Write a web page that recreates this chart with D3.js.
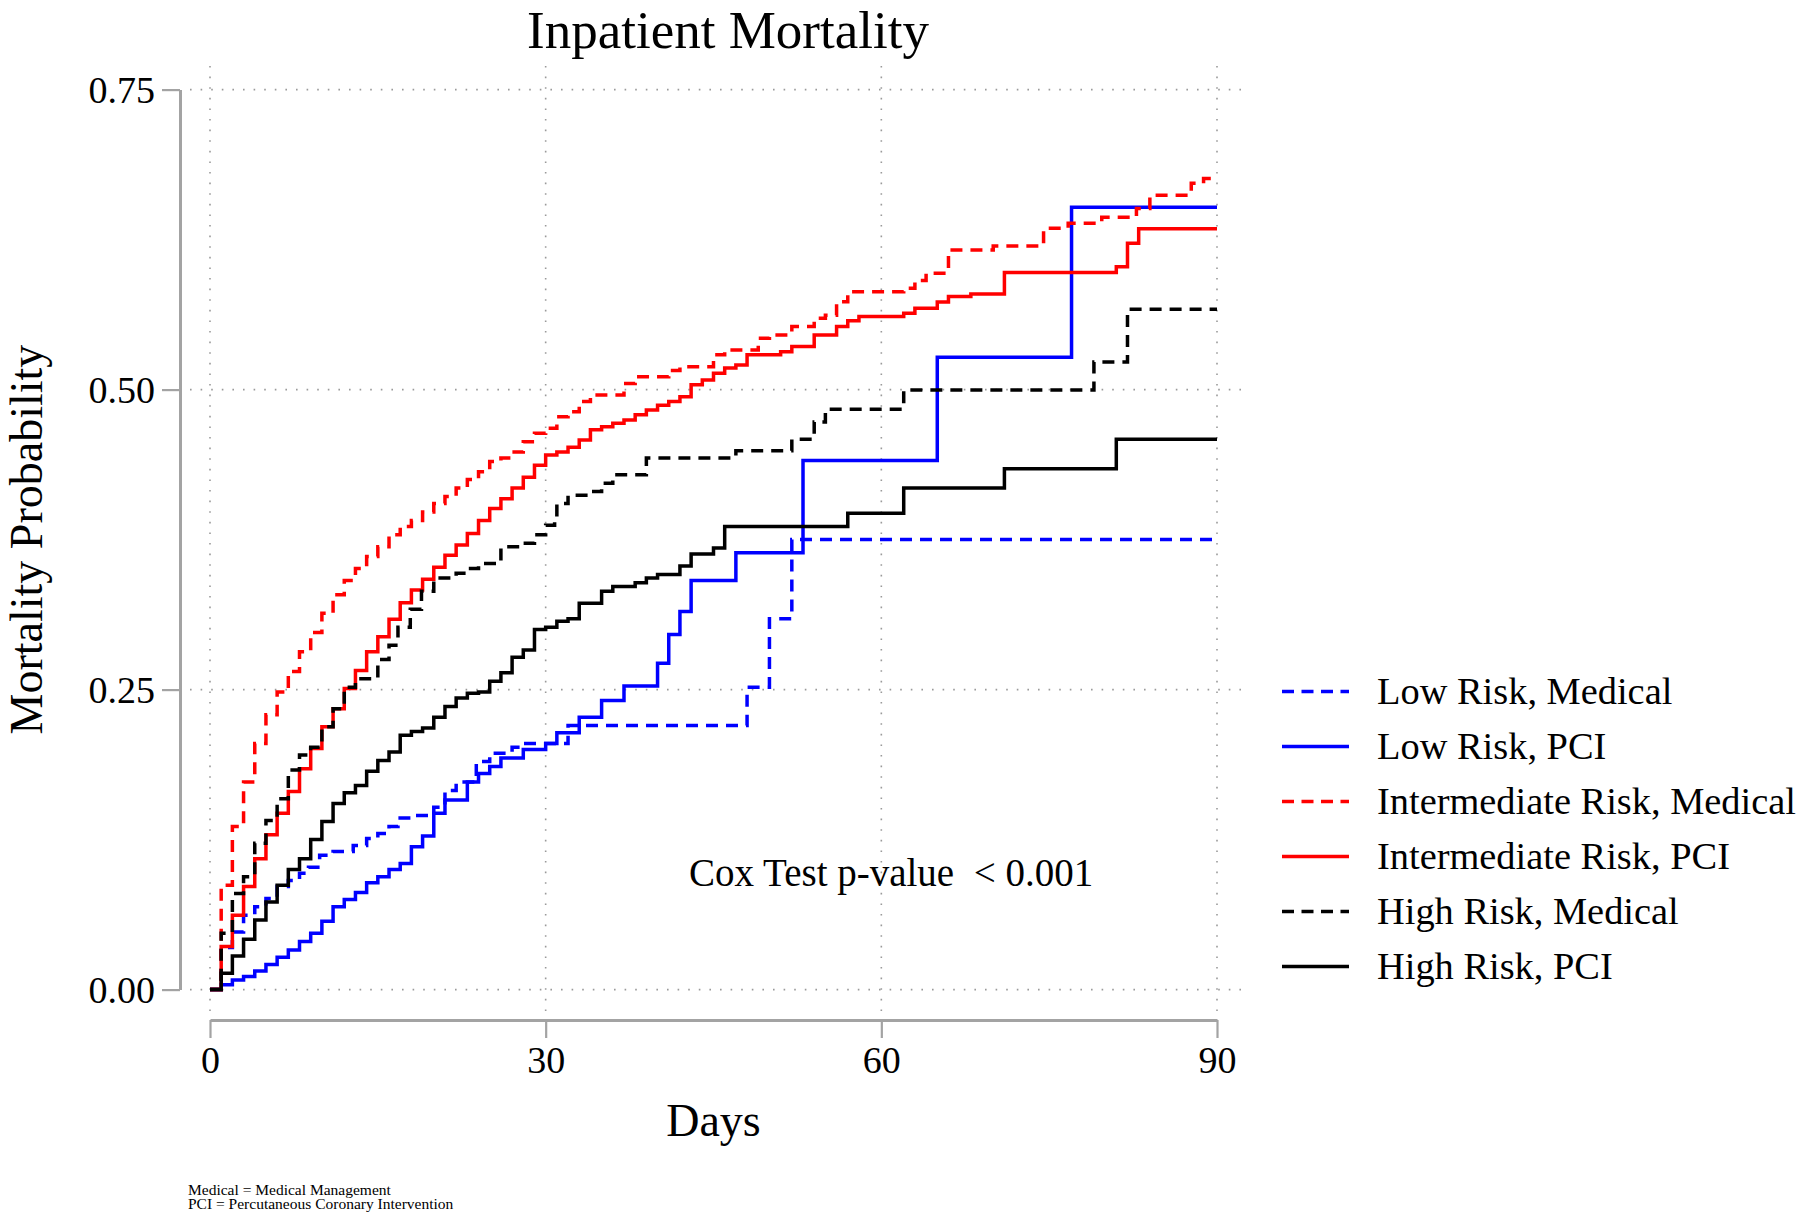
<!DOCTYPE html>
<html><head><meta charset="utf-8">
<script src="https://cdn.jsdelivr.net/npm/d3@7"></script>
<style>
body{margin:0;background:#fff}
svg{display:block}
text{font-family:"Liberation Serif","Times New Roman",serif;fill:#000}
</style>
</head><body>
<svg id="chart" width="1800" height="1215"></svg>
<script>
// ---------- data (day, cumulative mortality probability) ----------
const seriesNames = ["Low Risk, Medical","Low Risk, PCI","Intermediate Risk, Medical","Intermediate Risk, PCI","High Risk, Medical","High Risk, PCI"];
const seriesColors = ["#0000ff","#0000ff","#ff0000","#ff0000","#000000","#000000"];
const seriesDashed = [true,false,true,false,true,false];

const lowMedical = [[0,0],[1,0.035],[2,0.048],[3,0.062],[4,0.069],[5,0.076],[6,0.086],[7,0.091],[8,0.097],[8.8,0.102],[9.8,0.112],[11,0.115],[12.8,0.12],[14,0.126],[15,0.13],[16,0.136],[16.8,0.143],[18,0.145],[20,0.152],[21,0.166],[22,0.173],[23.8,0.19],[25,0.197],[27,0.202],[28,0.205],[32,0.22],[48,0.252],[50,0.309],[52,0.375],[90,0.375]];
const lowPCI = [[0,0],[1,0.004],[2,0.008],[3,0.011],[4,0.0155],[5,0.021],[6,0.027],[7,0.033],[8,0.04],[9,0.047],[10,0.057],[11,0.069],[12,0.075],[13,0.081],[14,0.089],[15,0.094],[16,0.1],[17,0.105],[18,0.119],[19,0.128],[20,0.147],[21,0.158],[23,0.173],[24,0.18],[25,0.186],[26,0.193],[28,0.2],[30,0.205],[31,0.214],[33,0.227],[35,0.241],[37,0.253],[40,0.272],[41,0.296],[42,0.315],[43,0.341],[47,0.364],[53,0.441],[65,0.527],[77,0.652],[90,0.652]];
const intMedical = [[0,0],[1,0.087],[2,0.136],[3,0.173],[4,0.205],[5,0.229],[6,0.248],[7,0.265],[8,0.2816],[9,0.2975],[10,0.3136],[11,0.329],[12,0.341],[13,0.351],[14,0.361],[15,0.369],[16,0.379],[17,0.386],[18,0.391],[19,0.398],[20,0.405],[21,0.411],[22,0.418],[23,0.425],[24,0.4316],[25,0.44],[26,0.443],[27,0.448],[28,0.4566],[29,0.4636],[30,0.4678],[31,0.4774],[32,0.4816],[33,0.49],[34,0.4955],[37,0.505],[38,0.5108],[41,0.516],[42,0.519],[45,0.529],[46,0.533],[49,0.5427],[50,0.5455],[52,0.5525],[54,0.5594],[55,0.562],[56,0.5733],[57,0.5816],[62,0.5844],[63,0.591],[64,0.597],[66,0.6163],[70,0.6197],[74.5,0.6344],[76.7,0.6386],[79.7,0.6436],[82.8,0.651],[84,0.662],[87.7,0.672],[88.8,0.676],[90,0.676]];
const intPCI = [[0,0],[1,0.036],[2,0.062],[3,0.086],[4,0.109],[5,0.129],[6,0.147],[7,0.165],[8,0.184],[9,0.201],[10,0.219],[11,0.234],[12,0.251],[13,0.266],[14,0.2816],[15,0.294],[16,0.3086],[17,0.3224],[18,0.333],[19,0.342],[20,0.352],[21,0.362],[22,0.3705],[23,0.38],[24,0.391],[25,0.401],[26,0.409],[27,0.418],[28,0.427],[29,0.437],[30,0.4455],[31,0.448],[32,0.452],[33,0.458],[34,0.4665],[35,0.469],[36,0.472],[37,0.4747],[38,0.479],[39,0.483],[40,0.487],[41,0.49],[42,0.494],[43,0.504],[44,0.508],[45,0.5136],[46,0.518],[47,0.5205],[48,0.529],[51,0.5316],[52,0.536],[54,0.5455],[56,0.5525],[57,0.5574],[58,0.561],[62,0.5636],[63,0.5678],[65,0.573],[66,0.5775],[68,0.5797],[71,0.5975],[81,0.6024],[82,0.622],[83,0.634],[90,0.634]];
const highMedical = [[0,0],[1,0.047],[2,0.08],[3,0.094],[4,0.122],[5,0.141],[6,0.159],[7,0.183],[8,0.1955],[9,0.202],[10,0.219],[11,0.234],[12,0.252],[13,0.259],[15,0.275],[16,0.287],[16.8,0.302],[17.9,0.317],[18.9,0.332],[20,0.343],[22,0.347],[23,0.351],[24,0.355],[26,0.369],[28,0.372],[29,0.379],[30,0.387],[30.8,0.394],[31,0.405],[32,0.412],[34,0.415],[35,0.422],[36,0.429],[39,0.443],[47,0.449],[52,0.4586],[54,0.473],[55,0.4836],[62,0.4997],[79,0.523],[82,0.567],[90,0.567]];
const highPCI = [[0,0],[1,0.0136],[2,0.028],[3,0.042],[4,0.058],[5,0.073],[6,0.087],[7,0.1],[8,0.109],[9,0.125],[10,0.14],[11,0.155],[12,0.164],[13,0.17],[14,0.182],[15,0.191],[16,0.198],[17,0.212],[18,0.215],[19,0.218],[20,0.227],[21,0.236],[22,0.243],[23,0.247],[24,0.248],[25,0.257],[26,0.264],[27,0.277],[28,0.283],[29,0.3],[30,0.302],[31,0.307],[32,0.309],[33,0.322],[35,0.332],[36,0.336],[38,0.339],[39,0.343],[40,0.346],[42,0.353],[43,0.363],[45,0.368],[46,0.386],[57,0.397],[62,0.418],[71,0.434],[81,0.4586],[90,0.4586]];
const seriesData = [lowMedical, lowPCI, intMedical, intPCI, highMedical, highPCI];

const xTicks = [0,30,60,90];
const yTicks = [0,0.25,0.5,0.75];
const yTickLabels = ["0.00","0.25","0.50","0.75"];

const titleText = "Inpatient Mortality";
const xLabel = "Days";
const yLabel = "Mortality Probability";
const noteText = "Cox Test p-value  < 0.001";
const footnotes = ["Medical = Medical Management","PCI = Percutaneous Coronary Intervention"];

// ---------- drawing ----------
const svg = d3.select("#chart");
const x = d3.scaleLinear().domain([0,90]).range([210,1217]);
const y = d3.scaleLinear().domain([0,0.75]).range([989.6,89.6]);
const axisColor = "#a3a3a3";
const gridColor = "#9a9a9a";

// grid
const grid = svg.append("g");
grid.selectAll(".hg").data(yTicks).enter().append("line")
  .attr("x1",190).attr("x2",1242).attr("y1",d=>y(d)).attr("y2",d=>y(d))
  .attr("stroke",gridColor).attr("stroke-width",1.6).attr("stroke-dasharray","1.6,9");
grid.selectAll(".vg").data(xTicks).enter().append("line")
  .attr("y1",66).attr("y2",1012).attr("x1",d=>x(d)).attr("x2",d=>x(d))
  .attr("stroke",gridColor).attr("stroke-width",1.6).attr("stroke-dasharray","1.6,9");

// y axis
const yAxis = svg.append("g").attr("transform","translate(180,0)")
  .call(d3.axisLeft(y).tickValues(yTicks).tickFormat((d,i)=>yTickLabels[i]).tickSize(18).tickSizeOuter(0).tickPadding(7));
yAxis.select(".domain").attr("stroke",axisColor).attr("stroke-width",3);
yAxis.selectAll(".tick line").attr("stroke",axisColor).attr("stroke-width",2.2);
yAxis.selectAll(".tick text").attr("font-size",38).attr("font-family",null).attr("dy","0.34em").style("fill","#000");

// x axis
const xAxis = svg.append("g").attr("transform","translate(0,1020)")
  .call(d3.axisBottom(x).tickValues(xTicks).tickSize(18).tickSizeOuter(0));
xAxis.select(".domain").attr("stroke",axisColor).attr("stroke-width",3);
xAxis.selectAll(".tick line").attr("stroke",axisColor).attr("stroke-width",2.2);
xAxis.selectAll(".tick text").attr("font-size",38).attr("font-family",null).attr("y",53).attr("dy",null).style("fill","#000");
svg.selectAll(".domain").attr("stroke-linecap","butt");

// series
const line = d3.line().x(d=>x(d[0])).y(d=>y(d[1])).curve(d3.curveStepAfter);
const lines = svg.append("g");
seriesData.forEach((s,i)=>{
  lines.append("path").attr("d",line(s)).attr("fill","none")
    .attr("stroke",seriesColors[i]).attr("stroke-width",3.5)
    .attr("stroke-dasharray",seriesDashed[i]?"12,8":null)
    .attr("stroke-linejoin","miter");
});

// title and labels
svg.append("text").attr("x",728).attr("y",48).attr("text-anchor","middle").attr("font-size",53).text(titleText);
svg.append("text").attr("x",713.5).attr("y",1136).attr("text-anchor","middle").attr("font-size",46).text(xLabel);
svg.append("text").attr("transform","translate(42,539.6) rotate(-90)").attr("text-anchor","middle").attr("font-size",46).text(yLabel);
svg.append("text").attr("x",689).attr("y",886).attr("font-size",39).style("white-space","pre").text(noteText);

// legend
const legend = svg.append("g");
seriesNames.forEach((n,i)=>{
  const cy = 691.5 + i*55;
  legend.append("line").attr("x1",1282).attr("x2",1349).attr("y1",cy).attr("y2",cy)
    .attr("stroke",seriesColors[i]).attr("stroke-width",3.5)
    .attr("stroke-dasharray",seriesDashed[i]?"12,7.5":null);
  legend.append("text").attr("x",1377).attr("y",cy+12).attr("font-size",38.4).text(n);
});

// footnotes
footnotes.forEach((f,i)=>{
  svg.append("text").attr("x",188).attr("y",1195+i*13.5).attr("font-size",15.5).text(f);
});
</script>
</body></html>
